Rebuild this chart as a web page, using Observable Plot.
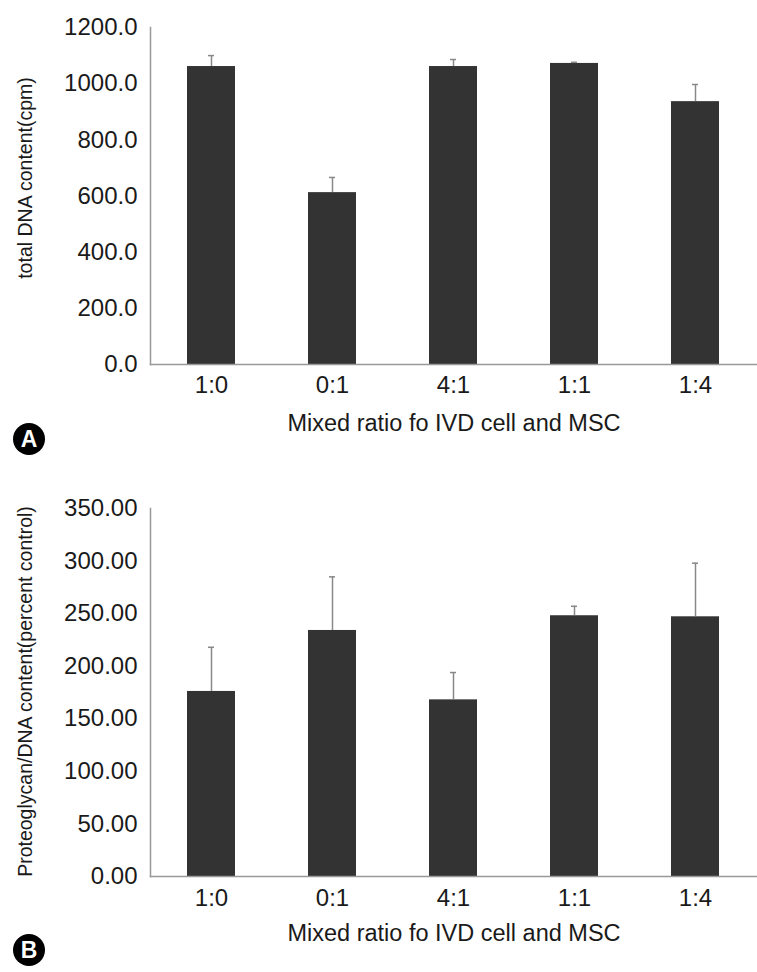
<!DOCTYPE html>
<html><head><meta charset="utf-8">
<script src="https://cdn.jsdelivr.net/npm/d3@7"></script>
<script src="https://cdn.jsdelivr.net/npm/@observablehq/plot@0.6"></script>
<style>
body{margin:0;background:#fff;}
#wrap{position:relative;width:757px;height:972px;font-family:"Liberation Sans",Arial,sans-serif;}
#wrap svg{display:block;}
.badge{position:absolute;left:13px;width:32px;height:32px;border-radius:50%;background:#000;color:#fff;font:bold 23px "Liberation Sans",Arial,sans-serif;display:flex;align-items:center;justify-content:center;line-height:1;}
</style></head><body><div id="wrap"></div>
<script>
// Data
const categories = ["1:0", "0:1", "4:1", "1:1", "1:4"];
const dnaMean = [1061, 612, 1061, 1072, 936];
const dnaErr  = [39, 54, 25, 4, 61];
const pgMean  = [176, 234, 168, 248, 247];
const pgErr   = [42, 51, 26, 9, 51];
const dnaTicks = [0, 200, 400, 600, 800, 1000, 1200];
const pgTicks  = [0, 50, 100, 150, 200, 250, 300, 350];
const xTitle = "Mixed ratio fo IVD cell and MSC";
const dnaTitle = "total DNA content(cpm)";
const pgTitle = "Proteoglycan/DNA content(percent control)";

const FONT = '"Liberation Sans", Arial, sans-serif';

function panel({mean, err, domain, ticks, fmt, ylabel, height, marginTop, marginBottom, yLabelDy, xTickPad, xLabelDy}) {
  const data = categories.map((c, i) => ({cat: c, v: mean[i], top: mean[i] + err[i]}));
  return Plot.plot({
    width: 757, height, marginLeft: 150, marginRight: 0, marginTop, marginBottom,
    style: {fontFamily: FONT, fontSize: "24px", color: "#1a1a1a", background: "#fff", overflow: "visible"},
    x: {domain: categories, paddingInner: 0.6, paddingOuter: 0.3, label: null},
    y: {domain, label: null},
    marks: [
      Plot.barY(data, {x: "cat", y: "v", fill: "#333"}),
      Plot.ruleX(data, {x: "cat", y1: "v", y2: "top", stroke: "#888", strokeWidth: 1.5}),
      Plot.tickY(data, {x: "cat", y: "top", stroke: "#888", strokeWidth: 1.5, insetLeft: 21, insetRight: 21}),
      Plot.frame({anchor: "left", stroke: "#999", strokeWidth: 1.5}),
      Plot.frame({anchor: "bottom", stroke: "#999", strokeWidth: 1.5}),
      Plot.axisY({ticks, tickFormat: fmt, tickSize: 0, tickPadding: 13, label: null}),
      Plot.axisX({tickSize: 0, tickPadding: xTickPad, label: null}),
      Plot.text([xTitle], {text: d => d, frameAnchor: "bottom", lineAnchor: "middle", textAnchor: "middle", dy: xLabelDy, fontSize: 23.5, fill: "#1a1a1a"}),
      Plot.text([ylabel], {text: d => d, frameAnchor: "left", rotate: -90, textAnchor: "middle", lineAnchor: "middle", dx: -125, dy: yLabelDy, fontSize: 19.5, fill: "#1a1a1a"})
    ]
  });
}

const wrap = document.getElementById("wrap");
wrap.appendChild(panel({
  mean: dnaMean, err: dnaErr, domain: [0, 1200], ticks: dnaTicks, fmt: d3.format(".1f"),
  ylabel: dnaTitle, height: 465, marginTop: 27, marginBottom: 101, yLabelDy: -18, xTickPad: 11, xLabelDy: 59
}));
wrap.appendChild(panel({
  mean: pgMean, err: pgErr, domain: [0, 350], ticks: pgTicks, fmt: d3.format(".2f"),
  ylabel: pgTitle, height: 507, marginTop: 43, marginBottom: 96, yLabelDy: -1, xTickPad: 12, xLabelDy: 57
}));

for (const [t, top] of [["A", 423], ["B", 934]]) {
  const b = document.createElement("div");
  b.className = "badge";
  b.style.top = top + "px";
  b.textContent = t;
  wrap.appendChild(b);
}
</script></body></html>
